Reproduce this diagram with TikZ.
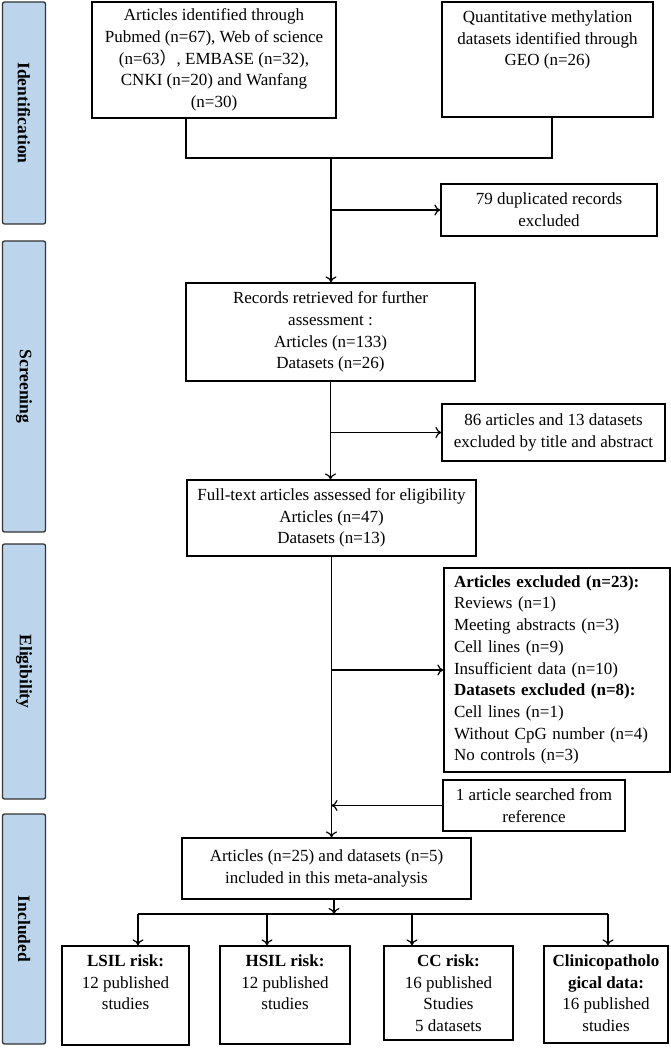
\documentclass[tikz,border=0pt]{standalone}
\usepackage{fontspec}
\setmainfont{Liberation Serif}
\newfontfamily\cjk{Noto Sans CJK SC}
\usepackage{xcolor}
\usepackage{tikz}
\usetikzlibrary{positioning}
\usetikzlibrary{arrows.meta}
\definecolor{stageblue}{HTML}{BCD5EC}
\tikzstyle{stage}=[rectangle,rounded corners=2pt,fill=stageblue,draw=black!80,line width=1.3pt,inner sep=0pt,font=\fontsize{17.5}{21.7}\selectfont\bfseries]
\tikzstyle{box}=[rectangle,draw,line width=1.2pt,inner sep=0pt,align=center]
\tikzstyle{edge} = [draw,line width=1.2pt,->]
\tikzstyle{undirectededge} = [draw,line width=1.2pt]
\tikzset{txt/.style={align=center,inner sep=0pt}}

\begin{document}
\begin{tikzpicture}[x=1pt,y=-1pt,>={To[length=6pt,width=11pt]},font=\fontsize{17}{21.7}\selectfont]
\useasboundingbox (0,0) rectangle (671,1048);

 %stages
 \foreach \y/\h/\name/\label in {113/222/sIdent/Identification, 386.5/291/sScreen/Screening, 671.5/255/sElig/Eligibility, 929/230/sIncl/Included}
   \node[stage,minimum width=\h,minimum height=43,rotate=-90] (\name) at (24,\y) {\label};

 %identification
 \node[box,minimum width=244,minimum height=116] (srcA) at (214,60) {Articles identified through\\ Pubmed (n=67), Web of science\\ (n=63{\cjk ）}, EMBASE (n=32),\\ CNKI (n=20) and Wanfang\\ (n=30)};
 \node[box,minimum width=211,minimum height=115] (srcB) at (547.5,59.5) {};
 \node[txt,below=9pt of srcB.north] (srcBtxt) {Quantitative methylation\\ datasets identified through\\ GEO (n=26)};
 \node[box,minimum width=216,minimum height=52] (dup) at (549,210) {79 duplicated records\\ excluded};

 %screening
 \node[box,minimum width=289,minimum height=98] (rec) at (330.5,332) {Records retrieved for further\\ assessment :\\ Articles (n=133)\\ Datasets (n=26)};
 \node[box,minimum width=223,minimum height=57] (excl1) at (553.5,432.5) {86 articles and 13 datasets\\ excluded by title and abstract};
 \node[box,minimum width=289,minimum height=76] (full) at (331.5,518) {Full-text articles assessed for eligibility\\ Articles (n=47)\\ Datasets (n=13)};

 %eligibility
 \node[box,align=left,text width=206,inner xsep=10pt,minimum height=204] (excl2) at (557,670) {\textbf{Articles excluded (n=23):}\\ Reviews (n=1)\\ Meeting abstracts (n=3)\\ Cell lines (n=9)\\ Insufficient data (n=10)\\ \textbf{Datasets excluded (n=8):}\\ Cell lines (n=1)\\ Without CpG number (n=4)\\ No controls (n=3)};
 \node[box,minimum width=182,minimum height=51] (addref) at (534,805.5) {1 article searched from\\ reference};

 %included
 \node[box,minimum width=289,minimum height=61] (incl) at (326.5,868.5) {Articles (n=25) and datasets (n=5)\\ included in this meta-analysis};

 \foreach \x/\y/\w/\h/\name/\label in {125.5/995.5/127/99/lsil/{\textbf{LSIL risk:}\\ 12 published\\ studies}, 285/995/130/98/hsil/{\textbf{HSIL risk:}\\ 12 published\\ studies}, 448.5/993/129/94/cc/{\textbf{CC risk:}\\ 16 published\\ Studies\\ 5 datasets}, 606/994.5/124/97/clin/{\textbf{Clinicopatholo}\\ \textbf{gical data:}\\ 16 published\\ studies}}
   {
   \node[box,minimum width=\w,minimum height=\h] (\name) at (\x,\y) {};
   \node[txt,below=9pt of \name.north] (\name txt) {\label};
   }

 %connectors
 \coordinate (jA) at (186,158);
 \coordinate (jB) at (552,158);
 \coordinate (jM) at (331,158);
 \path[undirectededge] (srcA.south -| jA) -- (jA) -- (jB) -- (srcB.south -| jB);
 \path[edge] (jM) -- (rec.north -| jM);
 \path[edge] (jM |- dup.west) -- (dup.west);

 \path[edge] (rec.south) -- (full.north -| rec.south);
 \path[edge] (rec.south |- excl1.west) -- (excl1.west);

 \path[edge] (full.south) -- (incl.north -| full.south);
 \path[edge] (full.south |- excl2.west) -- (excl2.west);
 \path[edge] (addref.west) -- (addref.west -| full.south);

 \coordinate (sp) at (334,914);
 \path[edge] (incl.south -| sp) -- (sp);
 \foreach \name/\x in {lsil/138, hsil/267, cc/412, clin/608}
   {
   \coordinate (t\name) at (\x,914);
   \path[edge] (t\name) -- (t\name |- \name.north);
   }
 \path[undirectededge] (tlsil) -- (tclin);

\end{tikzpicture}
\end{document}
